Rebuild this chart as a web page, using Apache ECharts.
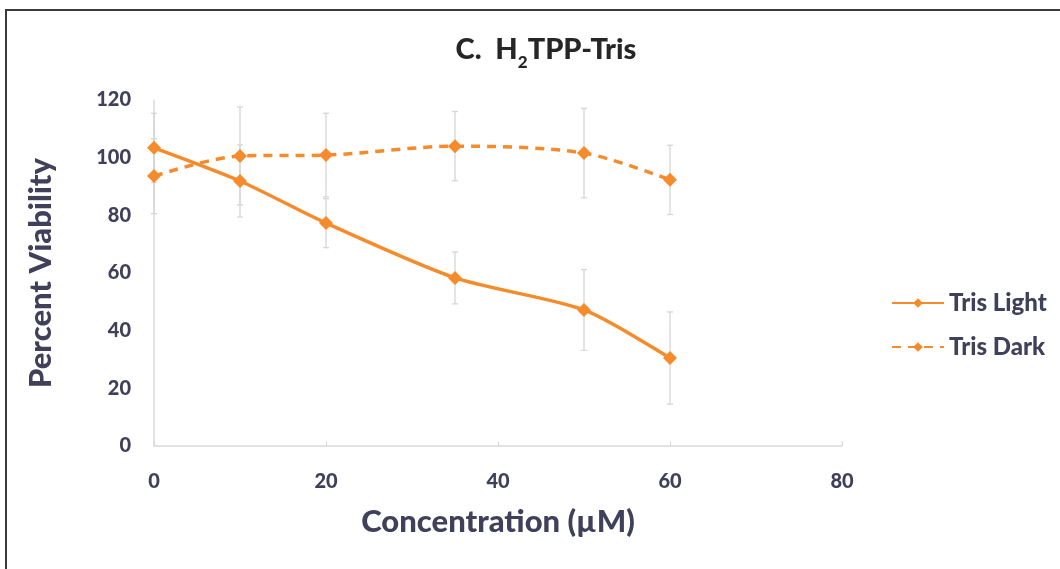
<!DOCTYPE html>
<html>
<head>
<meta charset="utf-8">
<script src="https://cdn.jsdelivr.net/npm/echarts@6/dist/echarts.min.js"></script>
<style>
  html, body { margin: 0; padding: 0; background: #fff; }
  #frame { position: absolute; left: 5px; top: 9px; width: 1100px; height: 600px; border-top: 2px solid #3a3a3a; border-left: 2px solid #3a3a3a; }
  #chart { position: absolute; left: 0; top: 0; width: 1060px; height: 569px; }
</style>
</head>
<body>
<div id="frame"></div>
<div id="chart"></div>
<script>
const concentrations = [0, 10, 20, 35, 50, 60];
const trisLight = [103.4, 91.9, 77.3, 58.3, 47.2, 30.5];
const trisDark = [93.6, 100.6, 100.9, 104.0, 101.6, 92.3];
const trisLightErr = [12, 12.5, 8.5, 9, 14, 16];
const trisDarkErr = [13, 17, 14.5, 12, 15.5, 12];
const seriesNames = ['Tris Light', 'Tris Dark'];
const xTicks = [0, 20, 40, 60, 80];
const yTicks = [0, 20, 40, 60, 80, 100, 120];

const ORANGE = '#F68B2C';
const TEXT = '#41405A';
const FONT = 'Lato, "Open Sans", sans-serif';
const W = 900;

function pairs(ys) { return concentrations.map((x, i) => [x, ys[i]]); }
function errData(ys, es) { return concentrations.map((x, i) => [x, ys[i] - es[i], ys[i] + es[i]]); }

function errorRender(params, api) {
  const x = api.value(0);
  const lo = api.coord([x, api.value(1)]);
  const hi = api.coord([x, api.value(2)]);
  const w = 3;
  const style = { stroke: '#d6d6d6', lineWidth: 1.3 };
  return {
    type: 'group',
    children: [
      { type: 'line', shape: { x1: lo[0], y1: lo[1], x2: hi[0], y2: hi[1] }, style },
      { type: 'line', shape: { x1: lo[0] - w, y1: lo[1], x2: lo[0] + w, y2: lo[1] }, style },
      { type: 'line', shape: { x1: hi[0] - w, y1: hi[1], x2: hi[0] + w, y2: hi[1] }, style }
    ]
  };
}

const chart = echarts.init(document.getElementById('chart'), null, { renderer: 'canvas' });
chart.setOption({
  backgroundColor: 'transparent',
  animation: false,
  title: {
    text: '{t|C.  H}{s|2}{t|TPP-Tris}',
    left: 541, textAlign: 'center', top: 25,
    textStyle: {
      rich: {
        t: { fontFamily: FONT, fontWeight: W, fontSize: 29, color: '#262626', verticalAlign: 'bottom', lineHeight: 34 },
        s: { fontFamily: FONT, fontWeight: W, fontSize: 17, color: '#262626', verticalAlign: 'bottom', lineHeight: 34, padding: [0, 0, -7, 0] }
      }
    }
  },
  legend: {
    orient: 'vertical',
    left: 886, top: 286,
    itemWidth: 52, itemHeight: 12, itemGap: 20,
    data: seriesNames,
    textStyle: { fontFamily: FONT, fontWeight: W, fontSize: 24, lineHeight: 20, color: TEXT }
  },
  grid: { left: 154, right: 218, top: 100, bottom: 123 },
  xAxis: {
    type: 'value', min: 0, max: 80, interval: 20,
    name: 'Concentration (µM)', nameLocation: 'middle', nameGap: 60,
    nameTextStyle: { fontFamily: FONT, fontWeight: W, fontSize: 31, color: TEXT },
    axisLine: { lineStyle: { color: '#d9d9d9', width: 1.5 } },
    axisTick: { show: true, inside: true, length: 5, lineStyle: { color: '#d9d9d9' } },
    splitLine: { show: false },
    axisLabel: { margin: 26, fontFamily: FONT, fontWeight: W, fontSize: 20, color: TEXT,
      formatter: v => xTicks.includes(v) ? String(v) : '' }
  },
  yAxis: {
    type: 'value', min: 0, max: 120, interval: 20,
    name: 'Percent Viability', nameLocation: 'middle', nameGap: 98,
    nameTextStyle: { fontFamily: FONT, fontWeight: W, fontSize: 31, color: TEXT },
    axisLine: { show: true, lineStyle: { color: '#d9d9d9', width: 1.5 } },
    axisTick: { show: false },
    splitLine: { show: false },
    axisLabel: { margin: 23, fontFamily: FONT, fontWeight: W, fontSize: 20, color: TEXT,
      formatter: v => yTicks.includes(v) ? String(v) : '' }
  },
  series: [
    { type: 'custom', name: 'lightErr', renderItem: errorRender, data: errData(trisLight, trisLightErr), z: 1, silent: true,
      encode: { x: 0, y: [1, 2] } },
    { type: 'custom', name: 'darkErr', renderItem: errorRender, data: errData(trisDark, trisDarkErr), z: 1, silent: true,
      encode: { x: 0, y: [1, 2] } },
    {
      name: 'Tris Light', type: 'line', data: pairs(trisLight), smooth: 0.25, z: 3,
      symbol: 'diamond', symbolSize: 14,
      itemStyle: { color: ORANGE },
      lineStyle: { color: ORANGE, width: 3.5 }
    },
    {
      name: 'Tris Dark', type: 'line', data: pairs(trisDark), smooth: 0.3, z: 3,
      symbol: 'diamond', symbolSize: 14,
      itemStyle: { color: ORANGE },
      lineStyle: { color: ORANGE, width: 3.5, type: [9, 7] }
    }
  ]
});
</script>
</body>
</html>
